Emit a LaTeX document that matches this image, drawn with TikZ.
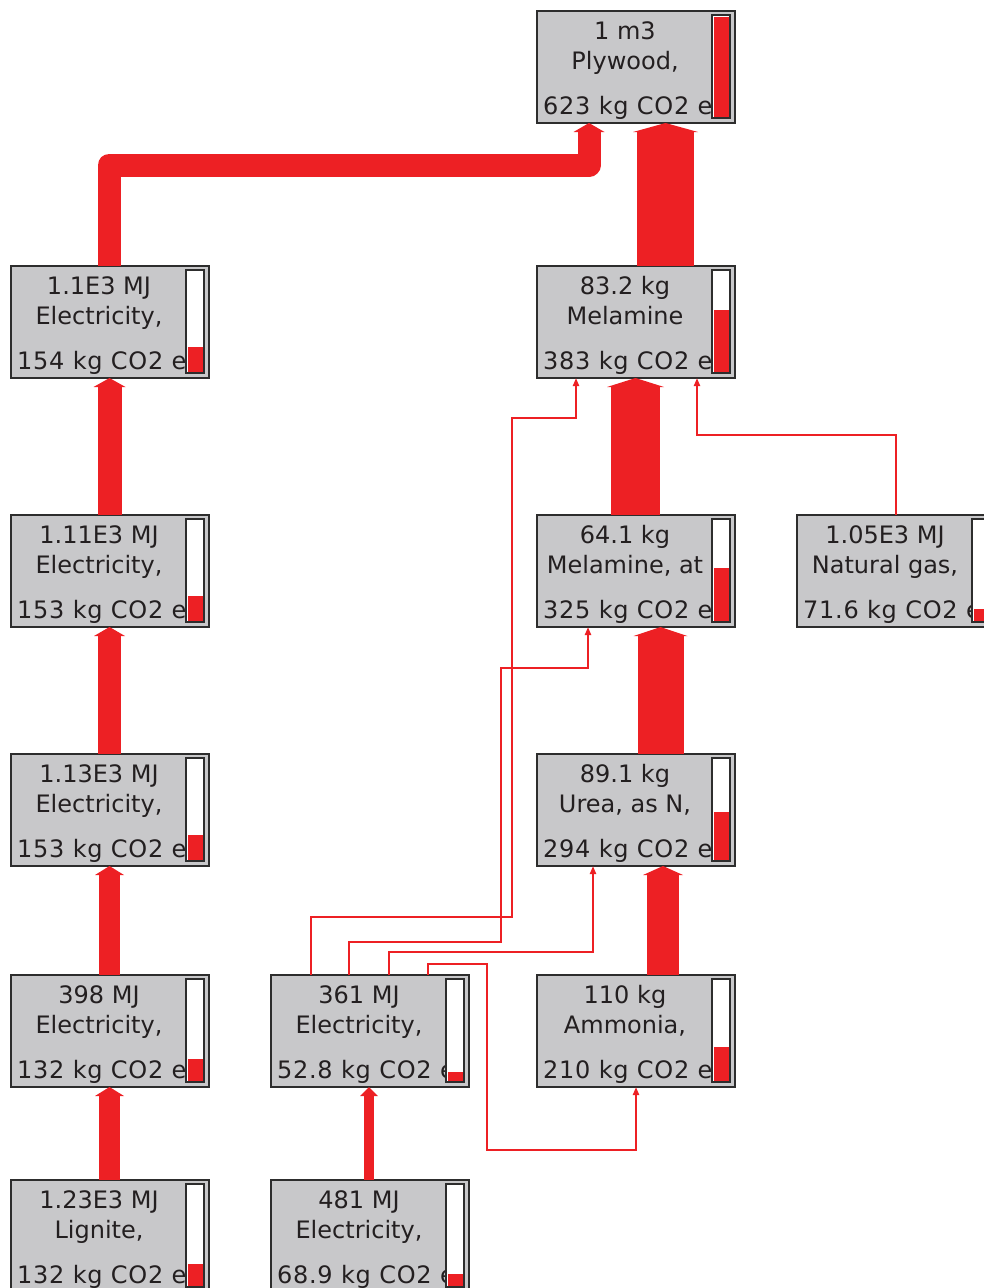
\documentclass[tikz,border=0pt]{standalone}
\usepackage{fontspec}
\setmainfont{DejaVu Sans}
\usetikzlibrary{arrows.meta,calc}
\definecolor{FlowRed} {RGB}{237,32,36}
\definecolor{BoxGrey} {RGB}{200,200,202}
\definecolor{BoxEdge} {RGB}{45,45,45}
\definecolor{TextDark}{RGB}{35,31,32}
\tikzset{
  boxframe/.style={draw=BoxEdge,line width=2pt,fill=BoxGrey,
                   minimum width=198pt,minimum height=112pt,
                   inner sep=0pt,outer sep=0pt},
  boxtext/.style={text=TextDark,font=\fontsize{24}{29}\selectfont,inner sep=0pt},
  scoretext/.style={boxtext,font=\fontsize{24}{29}\selectfont\addfontfeature{LetterSpace=3}},
  flow/.style={draw=FlowRed,line join=round,
               -{Triangle[length=9pt,width=8pt 1,line width=0pt]}},
  link/.style={draw=FlowRed,line width=2pt,
               -{Triangle[length=8pt,width=6pt]}}
}
%% process box: name, left, top, amount, process, score, bar fraction
\newcommand\lcabox[7]{%
  \node[boxframe,anchor=north west] (#1) at (#2,#3) {};
  \node[boxtext,anchor=base] at ($(#1.north west)+(88,28)$) {#4};
  \node[boxtext,anchor=base] at ($(#1.north west)+(88,58)$) {#5};
  \begin{scope}
    \clip (#1.north west) rectangle (#1.south east);
    \node[scoretext,anchor=base west] at ($(#1.north west)+(6,103)$) {#6};
  \end{scope}
  \draw[BoxEdge,line width=1.5pt,fill=white]
       ($(#1.north west)+(175,4)$) rectangle ($(#1.north west)+(193,107)$);
  \fill[FlowRed] ($(#1.north west)+(176.5,105.5)$) rectangle ++(15,{-100*#7});
}
\begin{document}
\begin{tikzpicture}[x=1pt,y=-1pt]
  \useasboundingbox (0,0) rectangle (984,1288);
  \clip (0,0) rectangle (984,1288);
  %% boxes, top to bottom
  \lcabox{plywood}{537}{11}{1 m3}{Plywood,}{623 kg CO2 e}{1}
  \lcabox{elecA}{11}{266}{1.1E3 MJ}{Electricity,}{154 kg CO2 e}{0.247}
  \lcabox{melamine}{537}{266}{83.2 kg}{Melamine}{383 kg CO2 e}{0.615}
  \lcabox{elecB}{11}{515}{1.11E3 MJ}{Electricity,}{153 kg CO2 e}{0.246}
  \lcabox{melamineAt}{537}{515}{64.1 kg}{Melamine, at}{325 kg CO2 e}{0.522}
  \lcabox{gas}{797}{515}{1.05E3 MJ}{Natural gas,}{71.6 kg CO2 e}{0.115}
  \lcabox{elecC}{11}{754}{1.13E3 MJ}{Electricity,}{153 kg CO2 e}{0.246}
  \lcabox{urea}{537}{754}{89.1 kg}{Urea, as N,}{294 kg CO2 e}{0.472}
  \lcabox{elecD}{11}{975}{398 MJ}{Electricity,}{132 kg CO2 e}{0.212}
  \lcabox{elecE}{271}{975}{361 MJ}{Electricity,}{52.8 kg CO2 e}{0.085}
  \lcabox{ammonia}{537}{975}{110 kg}{Ammonia,}{210 kg CO2 e}{0.337}
  \lcabox{lignite}{11}{1180}{1.23E3 MJ}{Lignite,}{132 kg CO2 e}{0.212}
  \lcabox{elecF}{271}{1180}{481 MJ}{Electricity,}{68.9 kg CO2 e}{0.111}
  %% thick flows, width ~ score
  \draw[flow,line width=23pt]($(elecA.north west)+(98,0)$)
       |- (589,165) -- ($(plywood.south west)+(52,0)$);
  \draw[flow,line width=57pt]($(melamine.north west)+(128.5,0)$)
       -- ($(plywood.south west)+(128.5,0)$);
  \draw[flow,line width=24pt]($(elecB.north west)+(98.5,0)$)
       -- ($(elecA.south west)+(98.5,0)$);
  \draw[flow,line width=49pt]($(melamineAt.north west)+(98.5,0)$)
       -- ($(melamine.south west)+(98.5,0)$);
  \draw[flow,line width=23pt]($(elecC.north west)+(98.5,0)$)
       -- ($(elecB.south west)+(98.5,0)$);
  \draw[flow,line width=46pt]($(urea.north west)+(123.5,0)$)
       -- ($(melamineAt.south west)+(123.5,0)$);
  \draw[flow,line width=21pt]($(elecD.north west)+(98.5,0)$)
       -- ($(elecC.south west)+(98.5,0)$);
  \draw[flow,line width=32pt]($(ammonia.north west)+(126,0)$)
       -- ($(urea.south west)+(126,0)$);
  \draw[flow,line width=21pt]($(lignite.north west)+(98.5,0)$)
       -- ($(elecD.south west)+(98.5,0)$);
  \draw[flow,line width=10pt]($(elecF.north west)+(98,0)$)
       -- ($(elecE.south west)+(98,0)$);
  %% thin links
  \draw[link]($(gas.north west)+(99,0)$)
       |- (697,435) -- ($(melamine.south west)+(160,0)$);
  \draw[link]($(elecE.north west)+(40,0)$)
       |- (512,917) |- (576,418) -- ($(melamine.south west)+(39,0)$);
  \draw[link]($(elecE.north west)+(78,0)$)
       |- (501,942) |- (588,668) -- ($(melamineAt.south west)+(51,0)$);
  \draw[link]($(elecE.north west)+(118,0)$)
       |- (593,952) -- ($(urea.south west)+(56,0)$);
  \draw[link]($(elecE.north west)+(157,0)$)
       |- (487,964) |- (636,1150) -- ($(ammonia.south west)+(99,0)$);
\end{tikzpicture}
\end{document}
